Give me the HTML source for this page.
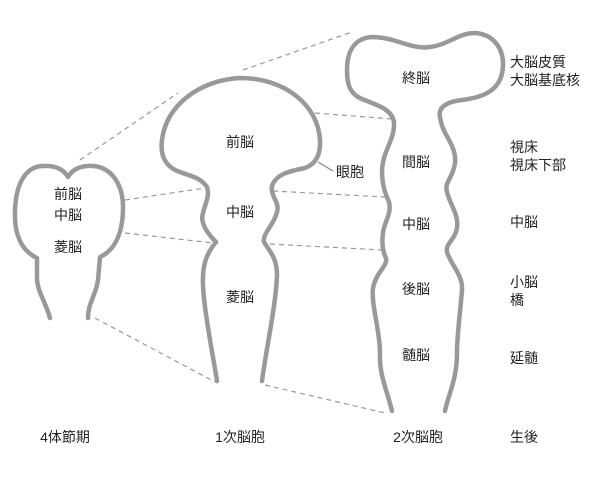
<!DOCTYPE html>
<html><head><meta charset="utf-8"><style>
html,body{margin:0;padding:0;background:#fff;}
svg{display:block;}
text{font-family:"Liberation Sans","Noto Sans CJK JP",sans-serif;font-size:14px;fill:#222;}
</style></head><body>
<svg width="600" height="480" viewBox="0 0 600 480" xmlns="http://www.w3.org/2000/svg">
<g fill="none" stroke="#999" stroke-width="1.2" stroke-dasharray="5,4">
<line x1="80" y1="160" x2="178" y2="93"/>
<line x1="243" y1="70" x2="352" y2="32"/>
<line x1="125" y1="200" x2="205" y2="188"/>
<line x1="125" y1="233" x2="213" y2="243"/>
<line x1="95" y1="318" x2="215" y2="382"/>
<line x1="315" y1="113" x2="392" y2="119"/>
<line x1="273" y1="191" x2="385" y2="197"/>
<line x1="270" y1="244" x2="382" y2="250"/>
<line x1="265" y1="385" x2="385" y2="413"/>
</g>
<line x1="318" y1="162" x2="333" y2="171" stroke="#888" stroke-width="1.2"/>
<g fill="none" stroke="#999" stroke-width="4.5" stroke-linecap="round" stroke-linejoin="round">
<!-- left brain -->
<path d="M50,318 C45,300 36,290 37,275 L37,258 C20,250 14,232 15,210 C16,183 26,167 42,166 C56,165 64,170 68,177 C72,170 80,165 94,166 C112,168 123,185 123,207 C123,233 115,250 100,257 L98,280 C96,295 88,303 88,318"/>
<!-- middle brain -->
<path d="M217,381 C212,350 204,310 203,285 C202,262 208,252 216,242 C206,232 200,222 203,213 C205,204 210,196 207,187 C200,177 190,176 180,172 C165,167 160,155 162,140 C166,105 200,80 240,78 C285,78 318,105 320,140 C321,158 313,165 305,168 C290,171 276,174 272,186 C270,196 280,202 277,212 C274,225 262,234 264,242 C270,252 277,258 277,275 C276,305 266,350 262,381"/>
<!-- right brain -->
<path d="M392,411 C387,390 379,375 380,353 C380,330 371,305 373,288 C376,272 388,266 386,258 C382,250 382,240 383,233 C384,222 392,214 389,202 C385,193 382,185 382,170 C383,150 395,140 394,122 C392,110 380,106 362,99 C350,94 347,85 347,70 C347,48 357,38 372,37 C395,37 412,50 430,47 C448,45 458,33 475,33 C493,34 503,48 503,64 C503,88 487,97 462,100 C445,102 438,108 440,117 C442,135 457,145 455,163 C453,178 444,182 447,192 C450,205 459,214 457,228 C455,240 445,244 447,252 C451,265 463,275 462,290 C460,315 457,335 457,353 C457,380 448,395 445,411"/>
</g>
<text x="68" y="199" text-anchor="middle">前脳</text>
<text x="68" y="220" text-anchor="middle">中脳</text>
<text x="68" y="252" text-anchor="middle">菱脳</text>
<text x="240" y="147" text-anchor="middle">前脳</text>
<text x="240" y="217" text-anchor="middle">中脳</text>
<text x="240" y="302" text-anchor="middle">菱脳</text>
<text x="350" y="177" text-anchor="middle">眼胞</text>
<text x="416" y="83" text-anchor="middle">終脳</text>
<text x="416" y="167" text-anchor="middle">間脳</text>
<text x="416" y="229" text-anchor="middle">中脳</text>
<text x="416" y="294" text-anchor="middle">後脳</text>
<text x="416" y="360" text-anchor="middle">髄脳</text>
<text x="510" y="67">大脳皮質</text>
<text x="510" y="85">大脳基底核</text>
<text x="510" y="152">視床</text>
<text x="510" y="170">視床下部</text>
<text x="510" y="227">中脳</text>
<text x="510" y="287">小脳</text>
<text x="510" y="305">橋</text>
<text x="510" y="363">延髄</text>
<text x="65" y="442" text-anchor="middle">4体節期</text>
<text x="240" y="442" text-anchor="middle">1次脳胞</text>
<text x="418" y="442" text-anchor="middle">2次脳胞</text>
<text x="510" y="442">生後</text>
</svg>
</body></html>
